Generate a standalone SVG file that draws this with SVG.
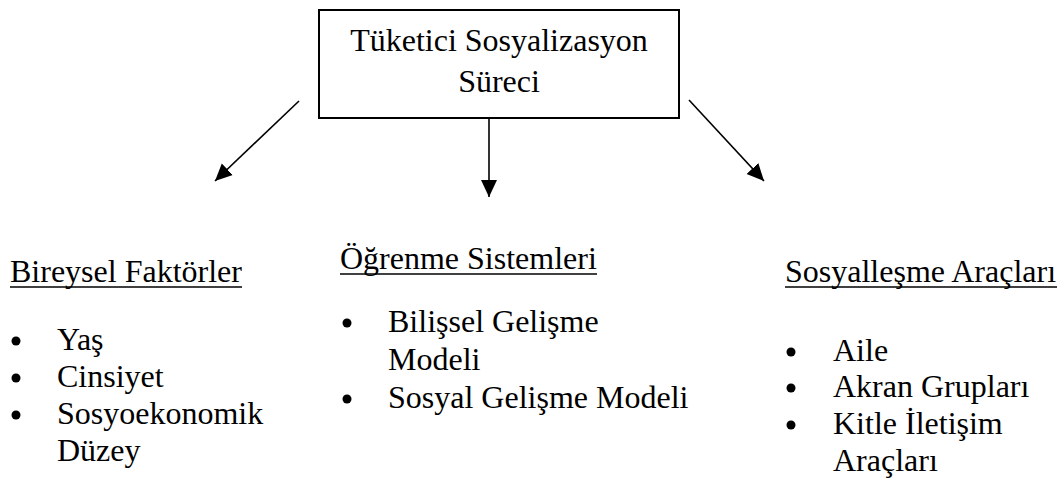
<svg xmlns="http://www.w3.org/2000/svg" width="1064" height="487" viewBox="0 0 1064 487">
<defs>
<style>
text{font-family:'Liberation Serif','Tinos','DejaVu Serif',serif;font-size:32px;fill:#000}
.ul{stroke:#000;stroke-width:1.6}
.conn{stroke:#000;stroke-width:1.6;fill:none}
.box{fill:#fff;stroke:#000;stroke-width:2}
</style>
<marker id="ah" markerUnits="userSpaceOnUse" markerWidth="18" markerHeight="18" viewBox="0 0 18 18" refX="17" refY="9" orient="auto">
<path d="M0,1 L17,9 L0,17 z" fill="#000"/>
</marker>
</defs>
<rect width="1064" height="487" fill="#fff"/>
<g id="root">
<rect class="box" x="319" y="10" width="360" height="108"/>
<text x="499" y="51" text-anchor="middle">Tüketici Sosyalizasyon</text>
<text x="499" y="92" text-anchor="middle">Süreci</text>
</g>
<g id="connectors">
<line class="conn" x1="299" y1="101" x2="215" y2="181" marker-end="url(#ah)"/>
<line class="conn" x1="489" y1="118" x2="489" y2="197" marker-end="url(#ah)"/>
<line class="conn" x1="689" y1="100" x2="764" y2="181" marker-end="url(#ah)"/>
</g>
<g id="bireysel">
<text x="10" y="282">Bireysel Faktörler</text>
<line class="ul" x1="10" y1="287" x2="242" y2="287"/>
<circle cx="16" cy="341" r="4.5"/>
<text x="57" y="350">Yaş</text>
<circle cx="16" cy="378" r="4.5"/>
<text x="57" y="387">Cinsiyet</text>
<circle cx="16" cy="415" r="4.5"/>
<text x="57" y="424">Sosyoekonomik</text>
<text x="57" y="461">Düzey</text>
</g>
<g id="ogrenme">
<text x="340" y="269">Öğrenme Sistemleri</text>
<line class="ul" x1="340" y1="274" x2="597" y2="274"/>
<circle cx="347" cy="323" r="4.5"/>
<text x="388" y="332">Bilişsel Gelişme</text>
<text x="388" y="370">Modeli</text>
<circle cx="347" cy="399" r="4.5"/>
<text x="388" y="408">Sosyal Gelişme Modeli</text>
</g>
<g id="sosyallesme">
<text x="785" y="282">Sosyalleşme Araçları</text>
<line class="ul" x1="785" y1="287" x2="1057" y2="287"/>
<circle cx="791" cy="352" r="4.5"/>
<text x="833" y="361">Aile</text>
<circle cx="791" cy="388" r="4.5"/>
<text x="833" y="397">Akran Grupları</text>
<circle cx="791" cy="425" r="4.5"/>
<text x="833" y="434">Kitle İletişim</text>
<text x="833" y="471">Araçları</text>
</g>
</svg>
